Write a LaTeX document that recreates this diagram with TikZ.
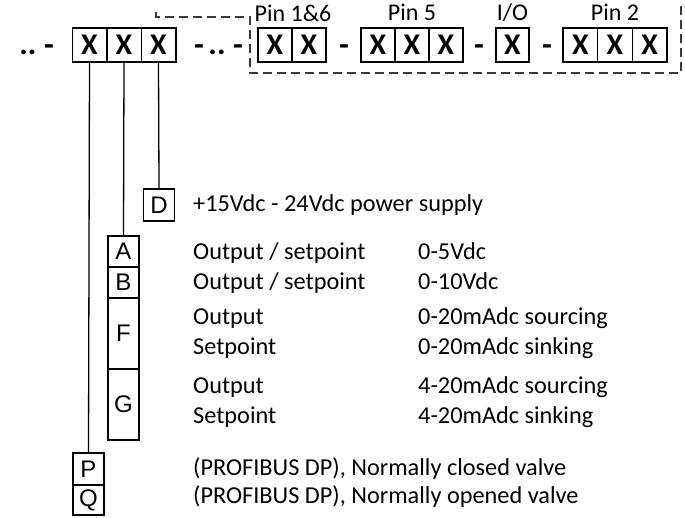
\documentclass[tikz,border=0pt]{standalone}
\usepackage{fontspec}
\setmainfont{Carlito}
\newfontfamily\arialf{Liberation Sans}
\begin{document}
\begin{tikzpicture}[x=1pt,y=-1pt,
  xbox/.style={draw,line width=1.5pt,minimum width=34.5pt,minimum height=34pt,inner sep=0pt,font=\bfseries\fontsize{30}{30}\selectfont},
  lbox/.style={draw,line width=1.2pt,minimum width=31pt,inner sep=0pt,font=\arialf\fontsize{24}{24}\selectfont},
  sep/.style={anchor=base,font=\bfseries\fontsize{32}{32}\selectfont,inner sep=0pt},
  pinlabel/.style={anchor=base,font=\fontsize{24}{24}\selectfont,inner sep=0pt},
  desc/.style={anchor=base west,font=\fontsize{24.3}{24.3}\selectfont,inner sep=0pt},
  wire/.style={line width=1.3pt},
  frame/.style={line width=1.2pt,dashed,dash pattern=on 9pt off 5pt,gray!45!black}]
\useasboundingbox (0,0) rectangle (685,518);
% dashed frame
\draw[frame] (156,12) -- (156,17) -- (250,17) -- (250,73) -- (681,73) -- (681,5);
% left group
\node[sep] (d0) at (28,55) {..};
\node[sep] (d1) at (49,56) {-};
\node[xbox] (x1) at (89.5,45) {X};
\node[xbox] (x2) at (124,45) {X};
\node[xbox] (x3) at (158.5,45) {X};
\node[sep] (d2) at (199,56) {-};
\node[sep] (d3) at (217,55) {..};
\node[sep] (d4) at (238,56) {-};
% pin 1&6
\node[xbox,minimum width=34pt] (p1a) at (275,45) {X};
\node[xbox,minimum width=34pt] (p1b) at (309,45) {X};
\node[sep] (d5) at (344,56) {-};
% pin 5
\node[xbox,minimum width=34pt] (p5a) at (378,45) {X};
\node[xbox,minimum width=34pt] (p5b) at (412,45) {X};
\node[xbox,minimum width=34pt] (p5c) at (446,45) {X};
\node[sep] (d6) at (479,56) {-};
% I/O
\node[xbox,minimum width=33pt] (io) at (512.5,45) {X};
\node[sep] (d7) at (547,56) {-};
% pin 2
\node[xbox,minimum width=34.7pt] (p2a) at (580.3,45) {X};
\node[xbox,minimum width=34.7pt] (p2b) at (615,45) {X};
\node[xbox,minimum width=34.7pt] (p2c) at (649.7,45) {X};
% pin labels
\node[pinlabel] (l1) at (293,22) {Pin 1\&6};
\node[pinlabel] (l5) at (412,21) {Pin 5};
\node[pinlabel] (lio) at (512.5,21) {I/O};
\node[pinlabel] (l2) at (615,21) {Pin 2};
% lower boxes
\node[lbox,minimum height=32pt] (D) at (159,205) {D};
\node[lbox,minimum height=31pt] (A) at (123.5,251.5) {A};
\node[lbox,minimum height=31pt] (B) at (123.5,282.5) {B};
\node[lbox,minimum height=71pt] (F) at (123.5,333.5) {F};
\node[lbox,minimum height=71pt] (G) at (123.5,404.5) {G};
\node[lbox,minimum height=32pt] (P) at (88.5,469) {P};
\node[lbox,minimum height=30pt] (Q) at (88.5,500) {Q};
% wires
\draw[wire] (x3.south) -- (D.north);
\draw[wire] (x2.south) -- (A.north);
\draw[wire] (x1.south) -- (P.north);
% descriptions
\node[desc] (t1) at (193,212) {+15Vdc - 24Vdc power supply};
\node[desc] (t2) at (193,260) {Output / setpoint};
\node[desc] (t3) at (193,290) {Output / setpoint};
\node[desc] (t4) at (193,325) {Output};
\node[desc] (t5) at (193,355) {Setpoint};
\node[desc] (t6) at (193,393) {Output};
\node[desc] (t7) at (193,423) {Setpoint};
\node[desc] (t8) at (193,475) {(PROFIBUS DP), Normally closed valve};
\node[desc] (t9) at (193,503) {(PROFIBUS DP), Normally opened valve};
\node[desc] (r2) at (418,260) {0-5Vdc};
\node[desc] (r3) at (418,290) {0-10Vdc};
\node[desc] (r4) at (418,325) {0-20mAdc sourcing};
\node[desc] (r5) at (418,355) {0-20mAdc sinking};
\node[desc] (r6) at (418,393) {4-20mAdc sourcing};
\node[desc] (r7) at (418,423) {4-20mAdc sinking};
\end{tikzpicture}
\end{document}
